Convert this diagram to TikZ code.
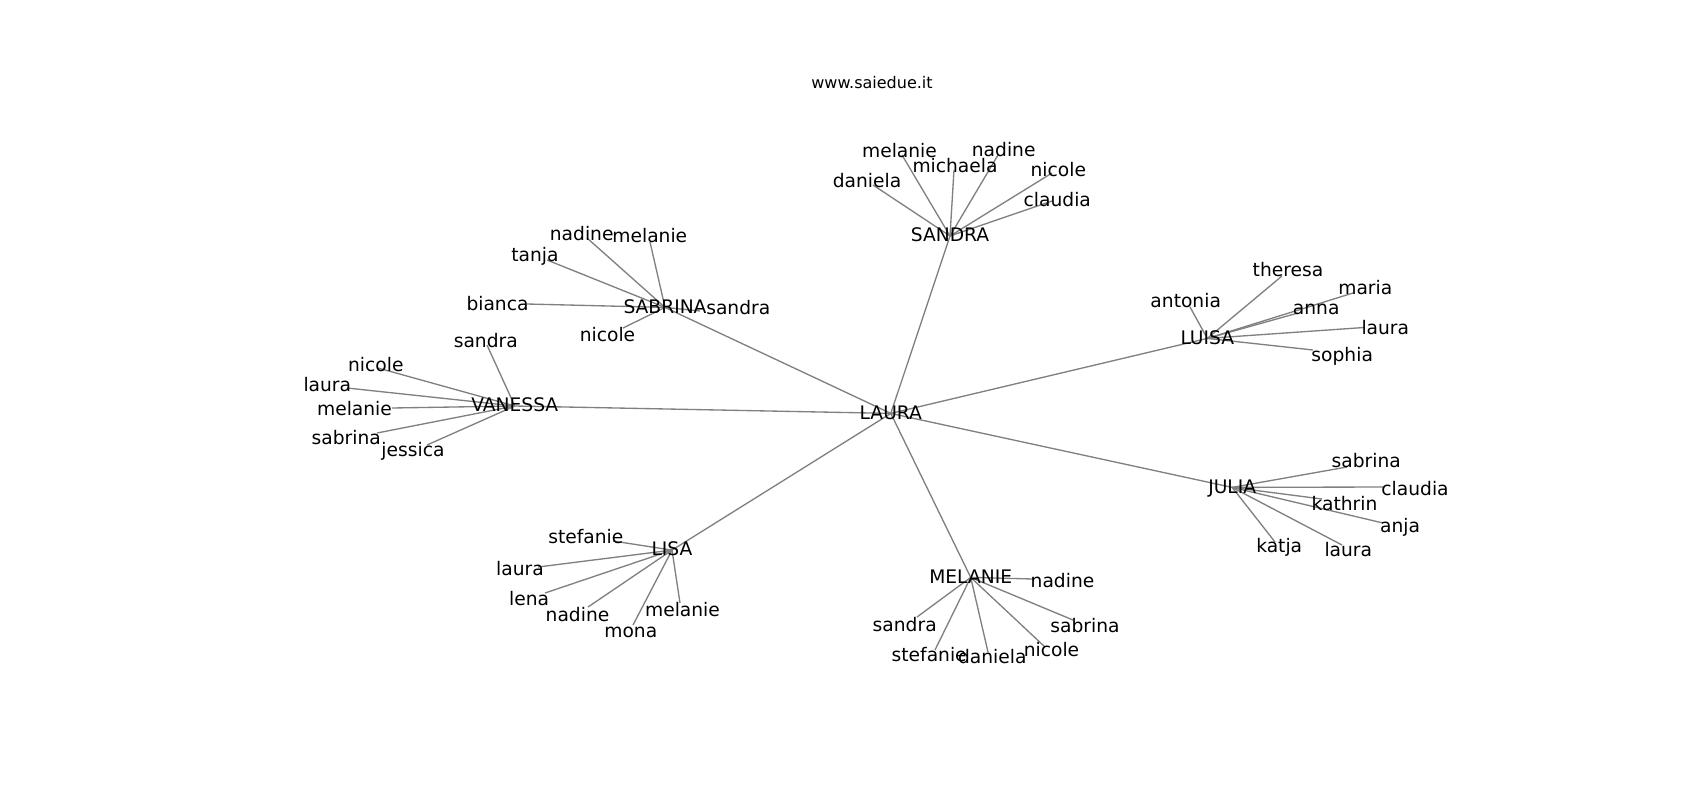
\documentclass[tikz,border=0pt]{standalone}
\usepackage{fontspec}
\setmainfont{DejaVu Sans}
\usetikzlibrary{backgrounds}

\begin{document}
\begin{tikzpicture}[x=0.75pt, y=-0.75pt,
    lbl/.style={inner sep=0pt, text height=1em, text depth=0.16em, font=\fontsize{14}{17}\selectfont},
    link/.style={draw=black!50, line width=1pt}]
    \useasboundingbox (0,0) rectangle (1700,800);
    % Title
    \node[lbl, font=\fontsize{12}{14}\selectfont] (title) at (872,83) {www.saiedue.it};
    % Hubs
    \foreach \h/\x/\y/\t in {laura/890.8/413.4/LAURA, sandra/950/236/SANDRA,
        sabrina/665/307.4/SABRINA, vanessa/514.8/406/VANESSA, lisa/672/550.1/LISA,
        melanie/970.7/577.4/MELANIE, julia/1232.2/487.4/JULIA, luisa/1207.3/338.4/LUISA} {
        \node[lbl] (\h) at (\x,\y) {\t};
    }
    % Spokes from the centre
    \begin{scope}[on background layer]
        \foreach \h in {sandra,sabrina,vanessa,lisa,melanie,julia,luisa} {
            \draw[link] (laura.center) -- (\h.center);
        }
    \end{scope}
    % Leaves: hub / name / end of link / place of label / text
    \foreach \h/\n/\ex/\ey/\lx/\ly/\t in {
        sandra/sa1/873/185/867/182/daniela, sandra/sa2/902/155/899.5/152/melanie,
        sandra/sa3/954/170/955/167/michaela, sandra/sa4/998/155/1003.7/151/nadine,
        sandra/sa5/1052/173/1058.3/171/nicole, sandra/sa6/1052/201/1057.3/201/claudia,
        sabrina/sb1/587/238/581.7/234.4/nadine, sabrina/sb2/650/242/649.8/236.8/melanie,
        sabrina/sb3/547/260/535/256/tanja, sabrina/sb4/527/304/497.5/304.4/bianca,
        sabrina/sb5/700/311/738.3/309/sandra, sabrina/sb6/623/328/607.5/335.8/nicole,
        vanessa/va1/487/345/485.8/341.8/sandra, vanessa/va2/378/368/375.8/365.8/nicole,
        vanessa/va3/347/388/327.3/385.8/laura, vanessa/va4/392/408/354.5/410/melanie,
        vanessa/va5/377/433/346.2/439/sabrina, vanessa/va6/427/445/413/450.4/jessica,
        luisa/lu1/1190/307/1185.7/301.8/antonia, luisa/lu2/1282/276/1288/270.8/theresa,
        luisa/lu3/1353/293/1365.3/289/maria, luisa/lu4/1298/313/1316.2/309/anna,
        luisa/lu5/1364/327.5/1385.3/328.4/laura, luisa/lu6/1313/350/1342.2/355.8/sophia,
        julia/ju1/1347/467/1366.2/461.8/sabrina, julia/ju2/1383/487/1415/490/claudia,
        julia/ju3/1322/499/1344.5/505/kathrin, julia/ju4/1383/523/1400/526.8/anja,
        julia/ju5/1275/542/1279.2/546.8/katja, julia/ju6/1342/545/1348.3/551/laura,
        melanie/me1/1033/579/1062.5/581.8/nadine, melanie/me2/917/617/904.7/626/sandra,
        melanie/me3/935/650/929.2/656/stefanie, melanie/me4/988/652/992.3/657.8/daniela,
        melanie/me5/1045/647/1051.5/651/nicole, melanie/me6/1073/620/1085/626.8/sabrina,
        lisa/li1/613/541/585.8/537.4/stefanie, lisa/li2/538/567/520/570/laura,
        lisa/li3/545/593/529.2/600/lena, lisa/li4/588/607/577.5/616/nadine,
        lisa/li5/633/625/630.8/631.8/mona, lisa/li6/680/603/682.5/611/melanie} {
        \coordinate (\n) at (\ex,\ey);
        \node[lbl] (\n-t) at (\lx,\ly) {\t};
        \begin{scope}[on background layer]
            \draw[link] (\h.center) -- (\n);
        \end{scope}
    }
\end{tikzpicture}
\end{document}
